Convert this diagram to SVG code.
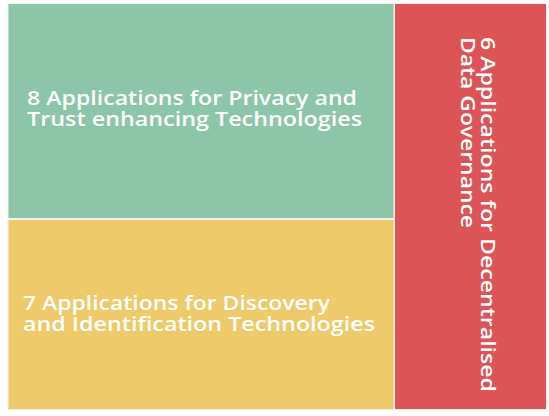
<svg xmlns="http://www.w3.org/2000/svg" width="549" height="416" viewBox="0 0 549 416">
<style>
.t{font-family:"Open Sans","Liberation Sans",sans-serif;font-size:20px;fill:#ffffff;font-weight:600}
.b{stroke:#f2f2ee;stroke-width:1}
</style>
<rect width="549" height="416" fill="#ffffff"/>
<g id="privacy">
<rect class="b" x="8" y="3.5" width="386" height="215" fill="#8DC5A9"/>
<text class="t" x="27" y="105" textLength="330" lengthAdjust="spacingAndGlyphs">8 Applications for Privacy and</text>
<text class="t" x="27" y="125.5" textLength="335" lengthAdjust="spacingAndGlyphs">Trust enhancing Technologies</text>
</g>
<g id="discovery">
<rect class="b" x="8" y="219.5" width="386" height="190" fill="#EECA6A"/>
<text class="t" x="23" y="310" textLength="307" lengthAdjust="spacingAndGlyphs">7 Applications for Discovery</text>
<text class="t" x="23" y="330.5" textLength="352" lengthAdjust="spacingAndGlyphs">and Identification Technologies</text>
</g>
<g id="governance">
<rect class="b" x="394.5" y="3.5" width="152" height="406" fill="#DC5456"/>
<text class="t" transform="translate(481,37) rotate(90)" x="0" y="0" textLength="355" lengthAdjust="spacingAndGlyphs">6 Applications for Decentralised</text>
<text class="t" transform="translate(461,37) rotate(90)" x="0" y="0" textLength="191" lengthAdjust="spacingAndGlyphs">Data Governance</text>
</g>
<g id="connectors"></g>
</svg>
